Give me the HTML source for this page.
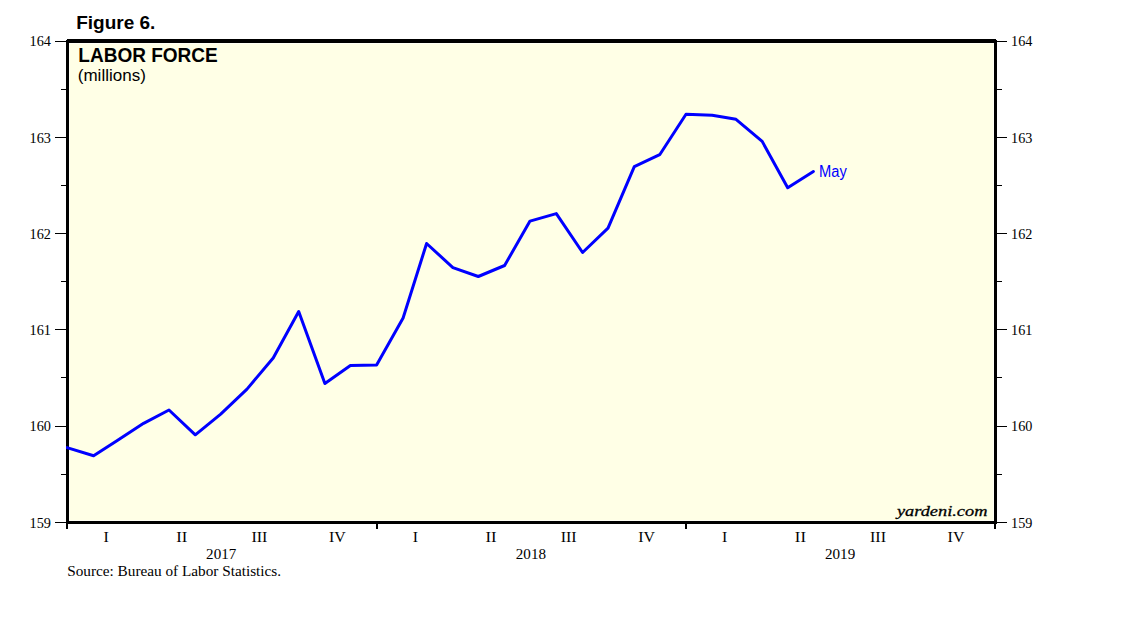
<!DOCTYPE html>
<html>
<head>
<meta charset="utf-8">
<style>
html,body{margin:0;padding:0;background:#fff;width:1138px;height:621px;overflow:hidden;}
svg{display:block;}
.sans{font-family:"Liberation Sans",sans-serif;}
.serif{font-family:"Liberation Serif",serif;}
</style>
</head>
<body>
<svg width="1138" height="621" viewBox="0 0 1138 621">
<rect x="0" y="0" width="1138" height="621" fill="#ffffff"/>
<!-- plot background -->
<rect x="69" y="43" width="925" height="478" fill="#fffff4"/>
<rect x="70" y="44" width="923" height="476" fill="#ffffe6"/>

<g shape-rendering="crispEdges" fill="#000">
<!-- frame -->
<rect x="67" y="39" width="929" height="4"/>
<rect x="66" y="521" width="931" height="3"/>
<rect x="66" y="40" width="3" height="484"/>
<rect x="994" y="40" width="3" height="484"/>
<!-- left major ticks -->
<rect x="55" y="41" width="11" height="1"/>
<rect x="55" y="137" width="11" height="1"/>
<rect x="55" y="233" width="11" height="1"/>
<rect x="55" y="329" width="11" height="1"/>
<rect x="55" y="426" width="11" height="1"/>
<rect x="55" y="522" width="11" height="1"/>
<!-- left minor ticks -->
<rect x="61" y="89" width="5" height="1"/>
<rect x="61" y="185" width="5" height="1"/>
<rect x="61" y="281" width="5" height="1"/>
<rect x="61" y="377" width="5" height="1"/>
<rect x="61" y="474" width="5" height="1"/>
<!-- right major ticks -->
<rect x="997" y="41" width="10" height="1"/>
<rect x="997" y="137" width="10" height="1"/>
<rect x="997" y="233" width="10" height="1"/>
<rect x="997" y="329" width="10" height="1"/>
<rect x="997" y="426" width="10" height="1"/>
<rect x="997" y="522" width="10" height="1"/>
<!-- right minor ticks -->
<rect x="997" y="89" width="5" height="1"/>
<rect x="997" y="185" width="5" height="1"/>
<rect x="997" y="281" width="5" height="1"/>
<rect x="997" y="377" width="5" height="1"/>
<rect x="997" y="474" width="5" height="1"/>
<!-- bottom year ticks -->
<rect x="66" y="524" width="2" height="5"/>
<rect x="376" y="524" width="2" height="5"/>
<rect x="685" y="524" width="2" height="5"/>
<rect x="994" y="524" width="2" height="5"/>
</g>

<!-- data line -->
<defs><clipPath id="pc"><rect x="66" y="39" width="931" height="485"/></clipPath></defs>
<polyline clip-path="url(#pc)" fill="none" stroke="#0000ff" stroke-width="3" stroke-linejoin="round" stroke-linecap="round"
points="67.0,447.6 93.6,455.8 117.3,440.4 143.6,423.3 169.0,410.0 195.3,434.8 220.7,414.2 247.0,389.1 273.2,358.0 298.7,311.5 324.9,383.5 350.4,365.6 376.6,364.9 403.1,318.0 426.6,243.5 452.9,267.6 478.3,276.5 504.6,265.5 530.0,221.1 556.3,213.6 582.6,252.5 608.0,228.2 634.3,166.6 659.7,154.7 686.0,114.2 712.2,115.3 736.0,119.3 762.2,141.4 787.7,187.8 813.4,171.5"/>

<!-- titles -->
<text class="sans" x="76.2" y="28.6" font-size="19" font-weight="bold" fill="#000">Figure 6.</text>
<text class="sans" x="78.3" y="61.8" font-size="20" font-weight="bold" fill="#000" textLength="139.5" lengthAdjust="spacingAndGlyphs">LABOR FORCE</text>
<text class="sans" x="77.8" y="81" font-size="17" fill="#000">(millions)</text>
<text class="sans" x="819.1" y="176.8" font-size="15.6" fill="#0000ff" textLength="27.8" lengthAdjust="spacingAndGlyphs">May</text>

<!-- left labels -->
<g class="serif" font-size="15" fill="#000" text-anchor="end">
<text x="51" y="46" textLength="21.4" lengthAdjust="spacingAndGlyphs">164</text>
<text x="51" y="143" textLength="21.4" lengthAdjust="spacingAndGlyphs">163</text>
<text x="51" y="239" textLength="21.4" lengthAdjust="spacingAndGlyphs">162</text>
<text x="51" y="335" textLength="21.4" lengthAdjust="spacingAndGlyphs">161</text>
<text x="51" y="431" textLength="21.4" lengthAdjust="spacingAndGlyphs">160</text>
<text x="51" y="528" textLength="21.4" lengthAdjust="spacingAndGlyphs">159</text>
</g>
<!-- right labels -->
<g class="serif" font-size="15" fill="#000">
<text x="1011.1" y="46" textLength="21.3" lengthAdjust="spacingAndGlyphs">164</text>
<text x="1011.1" y="143" textLength="21.3" lengthAdjust="spacingAndGlyphs">163</text>
<text x="1011.1" y="239" textLength="21.3" lengthAdjust="spacingAndGlyphs">162</text>
<text x="1011.1" y="335" textLength="21.3" lengthAdjust="spacingAndGlyphs">161</text>
<text x="1011.1" y="431" textLength="21.3" lengthAdjust="spacingAndGlyphs">160</text>
<text x="1011.1" y="528" textLength="21.3" lengthAdjust="spacingAndGlyphs">159</text>
</g>
<!-- quarter labels -->
<g class="serif" font-size="14.5" fill="#000" text-anchor="middle">
<text x="106.1" y="542" textLength="5.3" lengthAdjust="spacingAndGlyphs">I</text>
<text x="181.8" y="542" textLength="11.1" lengthAdjust="spacingAndGlyphs">II</text>
<text x="259.4" y="542" textLength="16.0" lengthAdjust="spacingAndGlyphs">III</text>
<text x="337.4" y="542" textLength="16.8" lengthAdjust="spacingAndGlyphs">IV</text>
<text x="415.4" y="542" textLength="5.3" lengthAdjust="spacingAndGlyphs">I</text>
<text x="491.1" y="542" textLength="11.1" lengthAdjust="spacingAndGlyphs">II</text>
<text x="568.7" y="542" textLength="16.0" lengthAdjust="spacingAndGlyphs">III</text>
<text x="646.7" y="542" textLength="16.8" lengthAdjust="spacingAndGlyphs">IV</text>
<text x="724.7" y="542" textLength="5.3" lengthAdjust="spacingAndGlyphs">I</text>
<text x="800.4" y="542" textLength="11.1" lengthAdjust="spacingAndGlyphs">II</text>
<text x="878.0" y="542" textLength="16.0" lengthAdjust="spacingAndGlyphs">III</text>
<text x="956.0" y="542" textLength="16.8" lengthAdjust="spacingAndGlyphs">IV</text>
</g>
<g class="serif" font-size="14.5" fill="#000" text-anchor="middle">
<text x="221.2" y="559" textLength="30.2" lengthAdjust="spacingAndGlyphs">2017</text>
<text x="530.9" y="559" textLength="30.2" lengthAdjust="spacingAndGlyphs">2018</text>
<text x="840.1" y="559" textLength="30.2" lengthAdjust="spacingAndGlyphs">2019</text>
</g>
<text class="serif" x="67.2" y="575.8" font-size="15.25" fill="#000">Source: Bureau of Labor Statistics.</text>
<text class="serif" x="987.4" y="515.6" font-size="15.6" font-style="italic" fill="#000" stroke="#000" stroke-width="0.3" textLength="90.5" lengthAdjust="spacingAndGlyphs" text-anchor="end">yardeni.com</text>
</svg>
</body>
</html>
